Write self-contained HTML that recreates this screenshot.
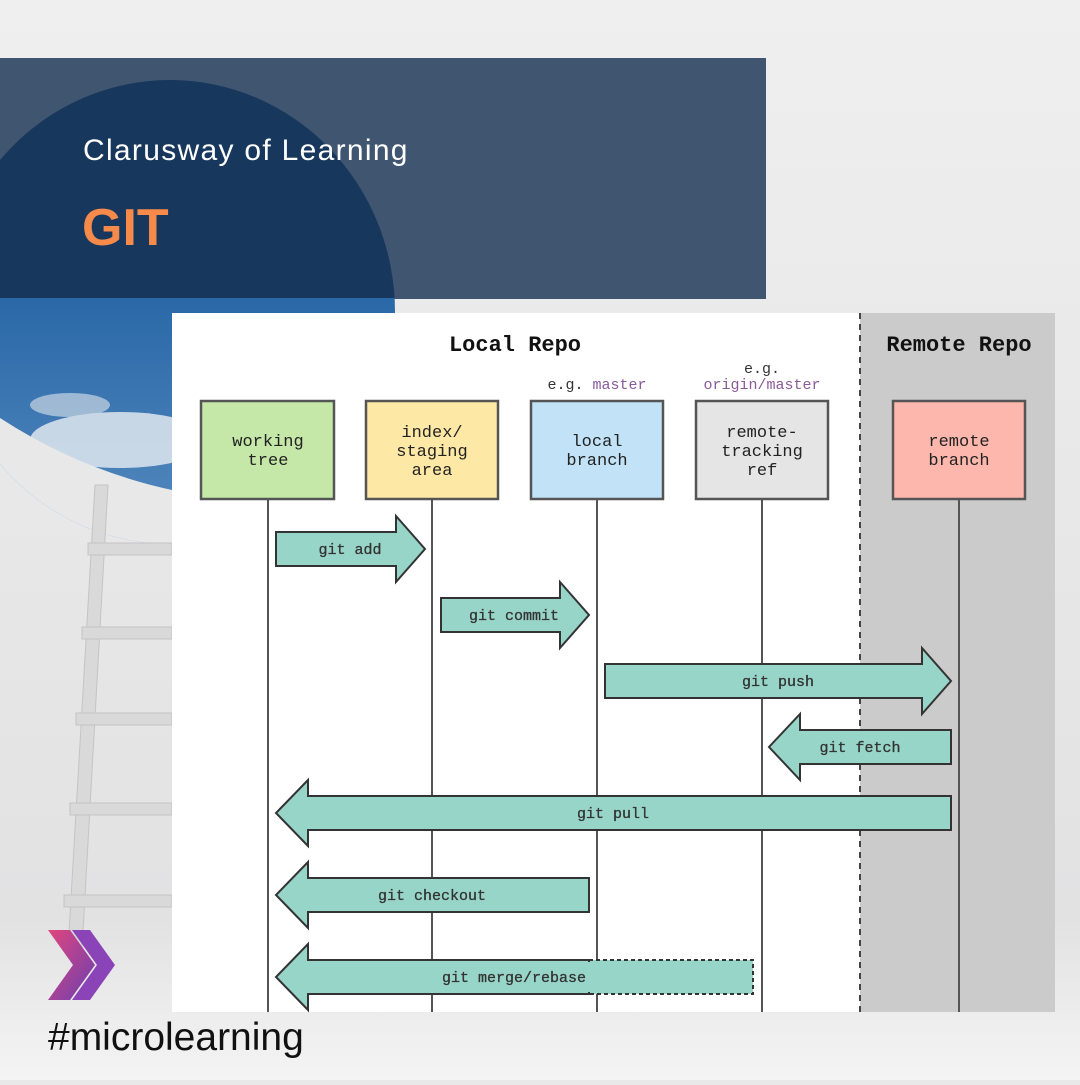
<!DOCTYPE html>
<html><head><meta charset="utf-8"><style>
html,body{margin:0;padding:0}
body{width:1080px;height:1080px;overflow:hidden;background:#e9e9ea;font-family:"Liberation Sans",sans-serif}
</style></head><body>
<svg width="1080" height="1080" viewBox="0 0 1080 1080" xmlns="http://www.w3.org/2000/svg">
<defs>
<linearGradient id="bg" x1="0" y1="0" x2="0" y2="1"><stop offset="0" stop-color="#efefef"/><stop offset="0.85" stop-color="#e2e2e3"/><stop offset="1" stop-color="#f4f4f4"/></linearGradient>
<linearGradient id="sky" x1="0" y1="0" x2="0" y2="1"><stop offset="0" stop-color="#2a68a8"/><stop offset="1" stop-color="#5f92c4"/></linearGradient>
<clipPath id="cc"><ellipse cx="170" cy="312" rx="225" ry="232"/></clipPath>
<clipPath id="below"><rect x="0" y="298" width="1080" height="800"/></clipPath>
<linearGradient id="chev" x1="0" y1="0" x2="1" y2="1"><stop offset="0" stop-color="#e0467f"/><stop offset="1" stop-color="#6a3fb0"/></linearGradient>
</defs>
<rect width="1080" height="1080" fill="url(#bg)"/>
<rect x="0" y="58" width="766" height="241" fill="#3f5570"/>
<g clip-path="url(#cc)">
  <rect x="0" y="58" width="766" height="241" fill="#17375c"/>
  <g clip-path="url(#below)">
    <rect x="0" y="298" width="420" height="300" fill="url(#sky)"/>
    <ellipse cx="120" cy="440" rx="90" ry="28" fill="#dfe7ef" opacity="0.85"/>
    <ellipse cx="70" cy="405" rx="40" ry="12" fill="#c9d6e4" opacity="0.7"/>
    <path d="M0 418 Q80 470 172 490 L172 700 L0 700 Z" fill="#e8e8e8"/>
  </g>
</g>
<g fill="#d9d9d9" stroke="#c4c4c4" stroke-width="1">
  <polygon points="95,485 108,485 82,950 68,950"/>
  <rect x="88" y="543" width="84" height="12"/>
  <rect x="82" y="627" width="90" height="12"/>
  <rect x="76" y="713" width="96" height="12"/>
  <rect x="70" y="803" width="102" height="12"/>
  <rect x="64" y="895" width="108" height="12"/>
</g>
<text x="83" y="160" font-size="30" letter-spacing="1.3" fill="#ffffff" font-family="Liberation Sans,sans-serif">Clarusway of Learning</text>
<text x="82" y="245" font-size="52" font-weight="bold" fill="#f58a4a" font-family="Liberation Sans,sans-serif">GIT</text>
<rect x="172" y="313" width="688" height="699" fill="#ffffff"/>
<rect x="860" y="313" width="195" height="699" fill="#cbcbcb"/>
<line x1="860" y1="313" x2="860" y2="1012" stroke="#444" stroke-width="2" stroke-dasharray="6,5"/>
<g font-family="Liberation Mono,monospace" text-anchor="middle">
<text x="515" y="351" font-size="22" font-weight="bold" fill="#111">Local Repo</text>
<text x="959" y="351" font-size="22" font-weight="bold" fill="#111">Remote Repo</text>
<text x="597" y="389" font-size="15" fill="#333">e.g. <tspan fill="#8a5a9a">master</tspan></text>
<text x="762" y="373" font-size="15" fill="#333">e.g.</text>
<text x="762" y="389" font-size="15" fill="#8a5a9a">origin/master</text>
</g>
<g stroke="#555" stroke-width="2">
<line x1="268" y1="499" x2="268" y2="1012"/><line x1="432" y1="499" x2="432" y2="1012"/><line x1="597" y1="499" x2="597" y2="1012"/><line x1="762" y1="499" x2="762" y2="1012"/><line x1="959" y1="499" x2="959" y2="1012"/>
</g>
<g stroke="#555" stroke-width="2.5">
<rect x="201" y="401" width="133" height="98" fill="#c5e8a9"/>
<rect x="366" y="401" width="132" height="98" fill="#fde9a5"/>
<rect x="531" y="401" width="132" height="98" fill="#c2e3f7"/>
<rect x="696" y="401" width="132" height="98" fill="#e5e5e5"/>
<rect x="893" y="401" width="132" height="98" fill="#fdb7ad"/>
</g>
<g font-family="Liberation Mono,monospace" font-size="17" text-anchor="middle" fill="#222">
<text x="268" y="446">working</text><text x="268" y="465">tree</text>
<text x="432" y="437">index/</text><text x="432" y="456">staging</text><text x="432" y="475">area</text>
<text x="597" y="446">local</text><text x="597" y="465">branch</text>
<text x="762" y="437">remote-</text><text x="762" y="456">tracking</text><text x="762" y="475">ref</text>
<text x="959" y="446">remote</text><text x="959" y="465">branch</text>
</g>
<rect x="589" y="960" width="164" height="34" fill="#97d5c8"/>
<polyline points="589,960 753,960 753,994 589,994" fill="none" stroke="#333" stroke-width="2" stroke-dasharray="4,3"/>
<g fill="#97d5c8" stroke="#333" stroke-width="2">
<polygon points="276,532 396,532 396,516 425,549 396,582 396,566 276,566"/>
<polygon points="441,598 560,598 560,582 589,615 560,648 560,632 441,632"/>
<polygon points="605,664 922,664 922,648 951,681 922,714 922,698 605,698"/>
<polygon points="951,730 800,730 800,714 769,747 800,780 800,764 951,764"/>
<polygon points="951,796 308,796 308,780 276,813 308,846 308,830 951,830"/>
<polygon points="589,878 308,878 308,862 276,895 308,928 308,912 589,912"/>
<polygon points="589,960 308,960 308,944 276,977 308,1010 308,994 589,994"/>
</g>
<rect x="587" y="962" width="4" height="30" fill="#97d5c8"/>
<g font-family="Liberation Mono,monospace" font-size="15" text-anchor="middle" fill="#333" stroke="#333" stroke-width="0.3">
<text x="350" y="554">git add</text>
<text x="514" y="620">git commit</text>
<text x="778" y="686">git push</text>
<text x="860" y="752">git fetch</text>
<text x="613" y="818">git pull</text>
<text x="432" y="900">git checkout</text>
<text x="514" y="982">git merge/rebase</text>
</g>
<polygon points="48,930 70,930 95,965 70,1000 48,1000 73,965" fill="url(#chev)"/>
<polygon points="72,930 90,930 115,965 90,1000 72,1000 97,965" fill="#8a44b8"/>
<text x="48" y="1050" font-size="39" fill="#111" font-family="Liberation Sans,sans-serif">#microlearning</text>
</svg>
</body></html>
